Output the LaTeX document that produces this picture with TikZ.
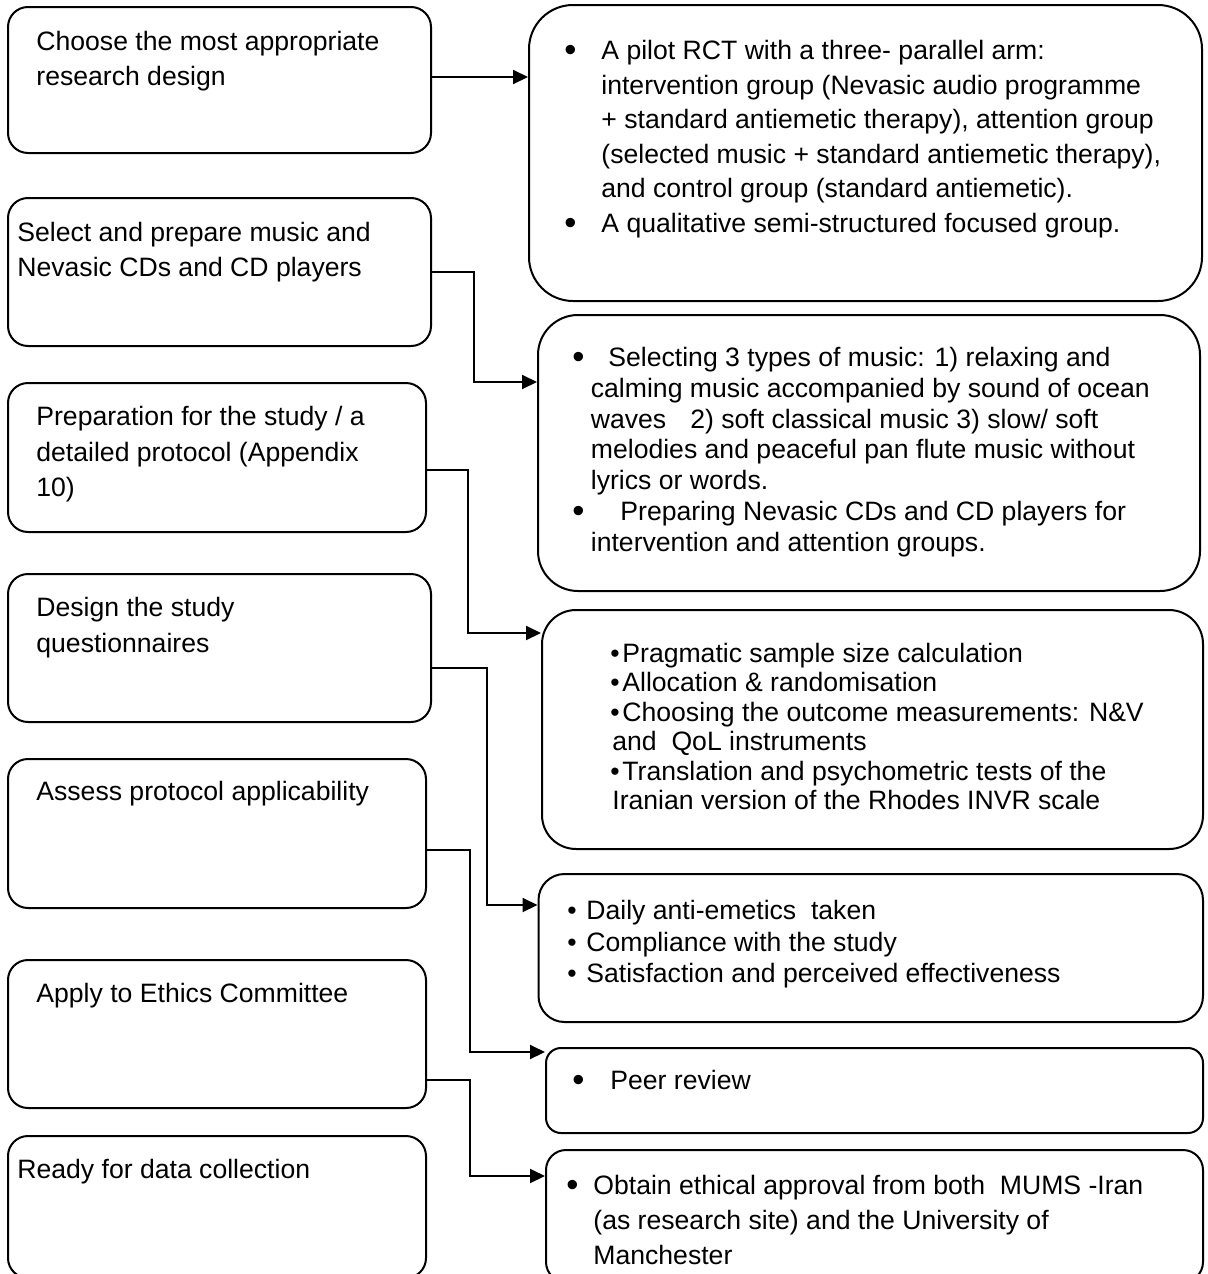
\documentclass[tikz,border=0pt]{standalone}
\usepackage{graphicx}
\usepackage{fontspec}
\setmainfont{Liberation Sans}
\usetikzlibrary{calc,arrows.meta}
\newcommand{\bigbul}{\makebox[0pt][l]{\raisebox{-0.06em}{\scalebox{1.3}{\textbullet}}}}
\newcommand{\smbul}{\makebox[0pt][l]{\textbullet}}
\begin{document}
\begin{tikzpicture}[x=0.5pt,y=-0.5pt,
  boxshape/.style={draw, line width=1pt, inner sep=0pt, fill=white},
  lbox/.style={boxshape, rounded corners=10pt},
  lab/.style={anchor=base west, align=left, inner sep=0pt, font=\fontsize{13.3pt}{17.75pt}\selectfont},
  arr/.style={line width=1pt, -{Triangle[length=7.5pt,width=7pt]}}]
\useasboundingbox (0,0) rectangle (1207,1274);
\fill[white] (0,0) rectangle (1207,1274);
\clip (0,0) rectangle (1207,1274);

% left column boxes
\node[lbox, minimum width=211.5pt, minimum height=73pt] (L1) at (219.5,80) {};
\node[lbox, minimum width=211.5pt, minimum height=74pt] (L2) at (219.5,272) {};
\node[lbox, minimum width=209pt, minimum height=74.5pt] (L3) at (217,457.5) {};
\node[lbox, minimum width=211.5pt, minimum height=74pt] (L4) at (219.5,648) {};
\node[lbox, minimum width=209pt, minimum height=74.5pt] (L5) at (217,833.5) {};
\node[lbox, minimum width=209pt, minimum height=74pt] (L6) at (217,1034) {};
\node[lbox, minimum width=209pt, minimum height=71pt] (L7) at (217,1207) {};

% right column boxes
\node[boxshape, rounded corners=22pt, minimum width=336.5pt, minimum height=148pt] (R1) at (865.5,153) {};
\node[boxshape, rounded corners=20pt, minimum width=331pt, minimum height=138pt] (R2) at (869,453) {};
\node[boxshape, rounded corners=17pt, minimum width=330.5pt, minimum height=119.5pt] (R3) at (872.5,729.5) {};
\node[boxshape, rounded corners=13pt, minimum width=332.25pt, minimum height=74pt] (R4) at (870.75,948) {};
\node[boxshape, rounded corners=7.5pt, minimum width=328.5pt, minimum height=42.5pt] (R5) at (874.5,1090.5) {};
\node[boxshape, rounded corners=10pt, minimum width=328.5pt, minimum height=66pt] (R6) at (874.5,1216) {};

% left texts (anchor = baseline of the last line)
\node[lab] (t1) at (36,85.5) {Choose the most appropriate\\research design};
\node[lab] (t2) at (17,276.5) {Select and prepare music and\\Nevasic CDs and CD players};
\node[lab] (t3) at (36,496.5) {Preparation for the study / a\\detailed protocol (Appendix\\10)};
\node[lab] (t4) at (36,652) {Design the study\\questionnaires};
\node[lab] (t5) at (36,800.5) {Assess protocol applicability};
\node[lab] (t6) at (36,1002) {Apply to Ethics Committee};
\node[lab] (t7) at (17,1178.5) {Ready for data collection};

% right texts
\node[lab, font=\fontsize{13.3pt}{17.3pt}\selectfont] (u1) at (564,232.5) {%
\bigbul\hspace*{18.5pt}A pilot RCT with a three- parallel arm:\\
\hspace*{18.5pt}intervention group (Nevasic audio programme\\
\hspace*{18.5pt}+ standard antiemetic therapy), attention group\\
\hspace*{18.5pt}(selected music + standard antiemetic therapy),\\
\hspace*{18.5pt}and control group (standard antiemetic).\\
\bigbul\hspace*{18.5pt}A qualitative semi-structured focused group.};

\node[lab, font=\fontsize{13.3pt}{15.4pt}\selectfont] (u2) at (572,551.3) {%
\bigbul\hspace*{18pt}Selecting 3 types of music: 1) relaxing and\\
\hspace*{9.25pt}calming music accompanied by sound of ocean\\
\hspace*{9.25pt}waves\hspace{12pt}2) soft classical music 3) slow/ soft\\
\hspace*{9.25pt}melodies and peaceful pan flute music without\\
\hspace*{9.25pt}lyrics or words.\\
\bigbul\hspace*{24pt}Preparing Nevasic CDs and CD players for\\
\hspace*{9.25pt}intervention and attention groups.};

\node[lab, font=\fontsize{13.3pt}{14.7pt}\selectfont] (u3) at (610,809.5) {%
\smbul\hspace*{6pt}Pragmatic sample size calculation\\
\smbul\hspace*{6pt}Allocation \& randomisation\\
\smbul\hspace*{6pt}Choosing the outcome measurements: N\&V\\
\hspace*{1pt}and\ \ QoL instruments\\
\smbul\hspace*{6pt}Translation and psychometric tests of the\\
\hspace*{1pt}Iranian version of the Rhodes INVR scale};

\node[lab, font=\fontsize{13.3pt}{15.75pt}\selectfont] (u4) at (567,982.5) {%
\smbul\hspace*{9.5pt}Daily anti-emetics\ \ taken\\
\smbul\hspace*{9.5pt}Compliance with the study\\
\smbul\hspace*{9.5pt}Satisfaction and perceived effectiveness};

\node[lab] (u5) at (572,1089.5) {\bigbul\hspace*{19pt}Peer review};

\node[lab, font=\fontsize{13.3pt}{17.5pt}\selectfont] (u6) at (566,1264.5) {%
\bigbul\hspace*{13.5pt}Obtain ethical approval from both\ \ MUMS -Iran\\
\hspace*{13.5pt}(as research site) and the University of\\
\hspace*{13.5pt}Manchester};

% connectors
\draw[arr] ($(L1.east)+(0,-3)$) -- ($(L1.east -| R1.west)+(0,-3)$);
\draw[arr] (L2.east) -- ++(42,0) |- ($(R2.west)+(0,-71)$);
\draw[arr] ($(L3.east)+(0,12.5)$) -- ++(41,0) |- ($(R3.west)+(0,-96.5)$);
\draw[arr] ($(L4.east)+(0,20)$) -- ++(55,0) |- ($(R4.west)+(0,-43)$);
\draw[arr] ($(L5.east)+(0,16.5)$) -- ++(43,0) |- ($(R5.west)+(0,-38.5)$);
\draw[arr] ($(L6.east)+(0,46)$) -- ++(43,0) |- ($(R6.west)+(0,-40)$);
\end{tikzpicture}
\end{document}
